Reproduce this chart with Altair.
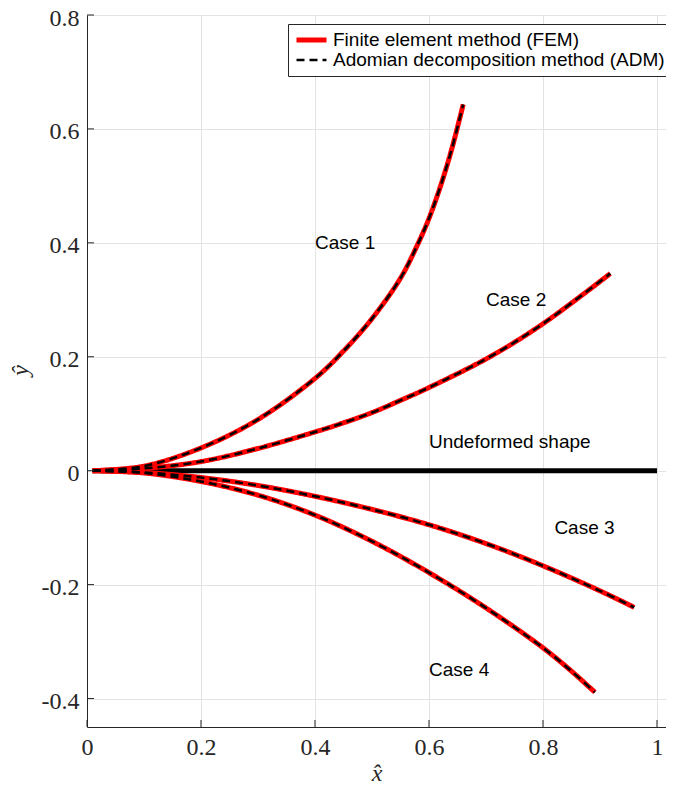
import altair as alt
import pandas as pd

# ---- data ----
case1_x = [0.01, 0.1, 0.2, 0.3, 0.4, 0.45, 0.5, 0.55, 0.58, 0.6, 0.62, 0.64, 0.66]
case1_y = [0.0, 0.008, 0.04, 0.09, 0.162, 0.21, 0.267, 0.338, 0.397, 0.443, 0.499, 0.565, 0.643]

case2_x = [0.01, 0.1, 0.2, 0.3, 0.4, 0.444, 0.5, 0.549, 0.6, 0.707, 0.8, 0.918]
case2_y = [0.0, 0.004, 0.016, 0.039, 0.068, 0.082, 0.102, 0.123, 0.146, 0.2, 0.258, 0.346]

case3_x = [0.01, 0.1, 0.2, 0.3, 0.4, 0.5, 0.6, 0.7, 0.8, 0.9, 0.96]
case3_y = [0.0, -0.003, -0.012, -0.026, -0.045, -0.068, -0.095, -0.128, -0.167, -0.211, -0.24]

case4_x = [0.01, 0.1, 0.2, 0.3, 0.4, 0.5, 0.6, 0.7, 0.8, 0.85, 0.891]
case4_y = [0.0, -0.004, -0.019, -0.043, -0.078, -0.124, -0.179, -0.241, -0.311, -0.352, -0.389]

undeformed_x = [0.01, 1.0]
undeformed_y = [0.0, 0.0]

methods = ["Finite element method (FEM)", "Adomian decomposition method (ADM)"]

label_text = ["Case 1", "Case 2", "Undeformed shape", "Case 3", "Case 4"]
label_x = [0.4, 0.7, 0.6, 0.82, 0.6]
label_y = [0.4, 0.3, 0.05, -0.1, -0.35]

x_ticks = [0, 0.2, 0.4, 0.6, 0.8, 1]
y_ticks = [-0.4, -0.2, 0, 0.2, 0.4, 0.6, 0.8]

# ---- tables ----
rows = []
for m in methods:
    for name, xs, ys in [("Case 1", case1_x, case1_y), ("Case 2", case2_x, case2_y),
                         ("Case 3", case3_x, case3_y), ("Case 4", case4_x, case4_y)]:
        for i, (a, b) in enumerate(zip(xs, ys)):
            rows.append({"x": a, "y": b, "case": name, "method": m, "order": i})
curves = pd.DataFrame(rows)
undeformed = pd.DataFrame({"x": undeformed_x, "y": undeformed_y})
labels = pd.DataFrame({"x": label_x, "y": label_y, "text": label_text})
xt = pd.DataFrame({"x": x_ticks})
yt = pd.DataFrame({"y": y_ticks})

W, H = 579, 712
axis_common = dict(
    grid=True, gridColor="#e3e3e3", gridWidth=1,
    domainColor="#262626", domainWidth=1, ticks=False, labelFlush=False,
    labelFont="Liberation Serif", labelFontSize=24, labelColor="#262626",
    labelExpr="'' + datum.value",
    titleFont="Liberation Serif", titleFontSize=24, titleFontStyle="italic",
    titleFontWeight="normal", titleColor="#262626",
)
x_enc = alt.X("x:Q", scale=alt.Scale(domain=[0, 1.0158], nice=False, zero=False),
              axis=alt.Axis(values=x_ticks, labelPadding=8, title="x̂",
                            titleY=46, titleBaseline="middle", **axis_common))
y_enc = alt.Y("y:Q", scale=alt.Scale(domain=[-0.45, 0.8], nice=False, zero=False),
              axis=alt.Axis(values=y_ticks, labelPadding=8, labelOffset=3, title="ŷ",
                            titleX=-67, titleY=H / 2 - 1, titleAngle=270,
                            titleAlign="center", titleBaseline="middle", **axis_common))

leg = alt.Legend(title=None, orient="none", legendX=201, legendY=9,
                 symbolType="stroke", symbolSize=900, clipHeight=20,
                 labelFont="Liberation Sans", labelFontSize=19, labelColor="black",
                 labelOffset=4, fillColor="white", strokeColor="#262626",
                 padding=6, rowPadding=0, labelLimit=1000)

color = alt.Color("method:N", scale=alt.Scale(domain=methods, range=["#ff0000", "#000000"]), legend=leg)
dash = alt.StrokeDash("method:N", scale=alt.Scale(domain=methods, range=[[1, 0], [8, 5]]), legend=leg)
sw = alt.StrokeWidth("method:N", scale=alt.Scale(domain=methods, range=[5, 2.5]), legend=leg)

under = alt.Chart(undeformed).mark_line(color="black", strokeWidth=5).encode(x=x_enc, y=y_enc)

fem = alt.Chart(curves).transform_filter(alt.datum.method == methods[0]).mark_line(
    interpolate="catmull-rom").encode(x=x_enc, y=y_enc, color=color, strokeDash=dash,
                                      strokeWidth=sw, detail="case:N", order="order:Q")
adm = alt.Chart(curves).transform_filter(alt.datum.method == methods[1]).mark_line(
    interpolate="catmull-rom").encode(x=x_enc, y=y_enc, color=color, strokeDash=dash,
                                      strokeWidth=sw, detail="case:N", order="order:Q")

text = alt.Chart(labels).mark_text(align="left", baseline="middle", font="Liberation Sans",
                                   fontSize=19, color="black").encode(x=x_enc, y=y_enc, text="text:N")

ytick = alt.Chart(yt).mark_rule(color="#262626", strokeWidth=1).encode(
    y=y_enc, x=alt.value(0), x2=alt.value(7))
xtick = alt.Chart(xt).mark_rule(color="#262626", strokeWidth=1).encode(
    x=x_enc, y=alt.value(H), y2=alt.value(H - 7))

chart = alt.layer(under, fem, adm, text, ytick, xtick).properties(
    width=W, height=H,
    autosize=alt.AutoSizeParams(type="none"),
    padding={"left": 79, "top": 7, "right": 0, "bottom": 62},
).configure_view(stroke=None)

chart.save("out.html", embed_options={"renderer": "svg", "actions": False})
